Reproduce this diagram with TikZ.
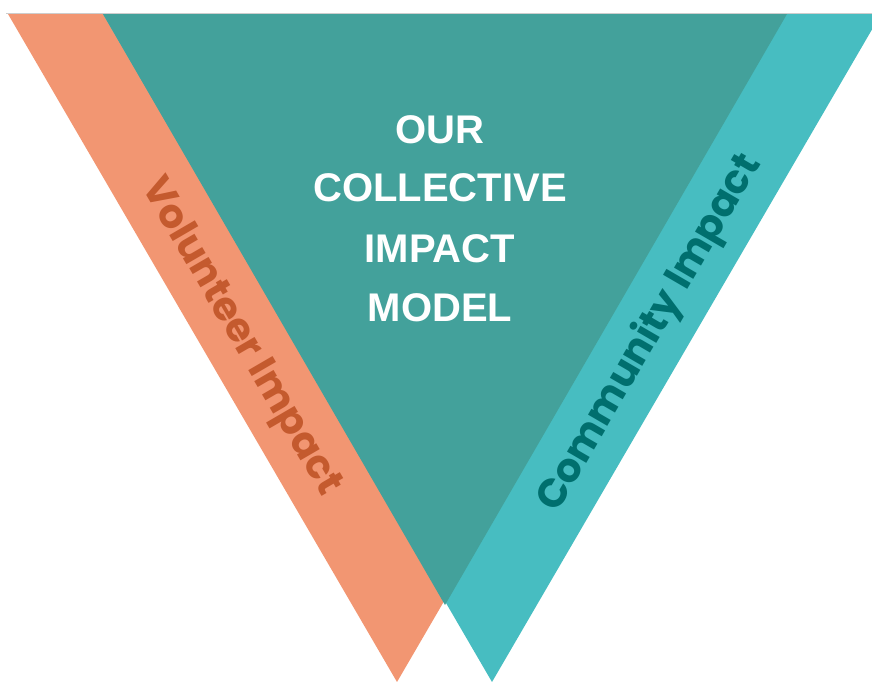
\documentclass[tikz,border=0pt]{standalone}
\usepackage{fontspec}
\setmainfont{Liberation Sans}
\newfontfamily\labfont{Poppins}
\definecolor{orangeband}{RGB}{242,150,114}
\definecolor{cyanband}{RGB}{71,189,193}
\definecolor{tealmid}{RGB}{67,161,155}
\definecolor{voltext}{RGB}{196,90,46}
\definecolor{comtext}{RGB}{0,111,110}
\definecolor{topline}{RGB}{205,205,205}
\tikzset{
  titleline/.style={text=white, font=\fontsize{40}{48}\selectfont\bfseries, inner sep=0pt, anchor=base},
  bandlabel/.style={font=\labfont\fontsize{40}{48}\selectfont\bfseries, inner sep=0pt, anchor=center},
}
\begin{document}
\begin{tikzpicture}[x=1pt,y=-1pt]
\useasboundingbox (0,0) rectangle (872,682);
\clip (0,0) rectangle (872,682);
\fill[orangeband] (8,14) -- (786,14) -- (397,682) -- cycle;
\fill[cyanband] (103,14) -- (881,14) -- (492,682) -- cycle;
\fill[tealmid] (103,14) -- (787,14) -- (445,605) -- cycle;
\draw[topline, line width=1pt] (6,13.5) -- (872,13.5);
\node[titleline] (t1) at (440,143) {OUR};
\node[titleline] (t2) at (440,201) {COLLECTIVE};
\node[titleline] (t3) at (440,262) {IMPACT};
\node[titleline] (t4) at (440,321) {MODEL};
\node[bandlabel, text=voltext, rotate=-59.8] (vol) at (240,337) {Volunteer Impact};
\node[bandlabel, text=comtext, rotate=59.8] (com) at (650,333) {Community Impact};
\end{tikzpicture}
\end{document}
